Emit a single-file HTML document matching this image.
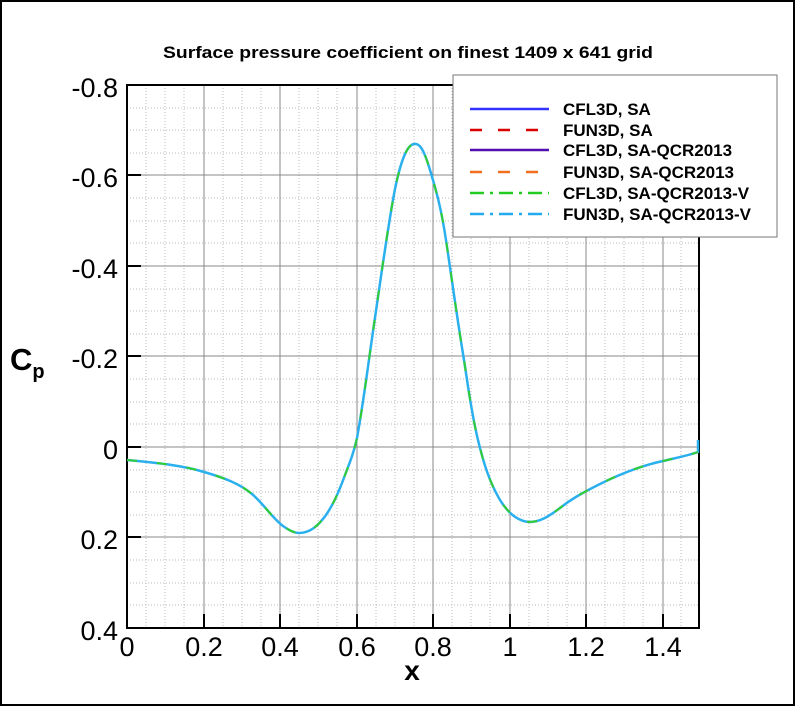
<!DOCTYPE html><html><head><style>body{margin:0;background:#fff}svg{display:block}</style></head><body>
<svg width="795" height="707" xmlns="http://www.w3.org/2000/svg" font-family="Liberation Sans, sans-serif">
<rect x="1" y="1" width="793" height="704" fill="#fff" stroke="#000" stroke-width="2"/>
<text x="408" y="58" font-size="17" font-weight="bold" text-anchor="middle" textLength="490" lengthAdjust="spacingAndGlyphs">Surface pressure coefficient on finest 1409 x 641 grid</text>
<g stroke="#bbb" stroke-width="1" stroke-dasharray="1,2">
<path d="M146,85V628M165,85V628M184,85V628M223,85V628M242,85V628M261,85V628M299,85V628M318,85V628M337,85V628M376,85V628M395,85V628M414,85V628M452,85V628M471,85V628M490,85V628M529,85V628M548,85V628M567,85V628M605,85V628M624,85V628M643,85V628M681,85V628"/>
<path d="M127,108H699M127,130H699M127,153H699M127,198H699M127,221H699M127,243H699M127,289H699M127,311H699M127,334H699M127,379H699M127,402H699M127,424H699M127,470H699M127,492H699M127,515H699M127,560H699M127,583H699M127,605H699"/>
</g>
<g stroke="#888" stroke-width="1">
<path d="M204,85V628M280,85V628M357,85V628M433,85V628M510,85V628M586,85V628M663,85V628"/>
<path d="M127,175H699M127,266H699M127,356H699M127,447H699M127,537H699"/>
</g>
<rect x="127" y="85" width="572" height="543" fill="none" stroke="#000" stroke-width="2"/>
<g stroke="#000" stroke-width="2">
<path d="M127,85h14M127,175h14M127,266h14M127,356h14M127,447h14M127,537h14M204,628v-14M280,628v-14M357,628v-14M433,628v-14M510,628v-14M586,628v-14M663,628v-14"/>
</g>
<g font-size="27" text-anchor="end">
<text x="118" y="97">-0.8</text><text x="118" y="187">-0.6</text><text x="118" y="278">-0.4</text><text x="118" y="368">-0.2</text><text x="118" y="459">0</text><text x="118" y="549">0.2</text><text x="118" y="640">0.4</text>
</g>
<g font-size="27" text-anchor="middle">
<text x="127" y="656">0</text><text x="204" y="656">0.2</text><text x="280" y="656">0.4</text><text x="357" y="656">0.6</text><text x="433" y="656">0.8</text><text x="510" y="656">1</text><text x="586" y="656">1.2</text><text x="663" y="656">1.4</text>
</g>
<text x="412" y="680" font-size="28" font-weight="bold" text-anchor="middle">x</text>
<text x="10" y="370" font-size="31" font-weight="bold">C<tspan font-size="20" dy="8">p</tspan></text>
<path d="M127,460 C160,463 185,466 204,472 C225,478 240,484 252,494 C264,504 272,518 283,526 C290,531 295,533 299,533 C310,533 318,526 326,515 C332,506 337,497 345,475 C350,462 354,452 357,438 C364,400 370,350 376,311 C383,262 389,220 395,189 C401,160 407,145 414,144 C420,143 424,150 430,170 C436,190 441,207 446,240 C452,280 456,311 464,360 C468,385 471,411 478,440 C484,465 490,483 500,500 C508,513 518,521 529,522 C540,522 548,517 560,508 C570,500 580,494 600,484 C620,474 640,466 663,461 C680,457 690,455 698,452 L698,440" fill="none" stroke="#2ab0ee" stroke-width="2.5"/>
<path d="M127,460 C160,463 185,466 204,472 C225,478 240,484 252,494 C264,504 272,518 283,526 C290,531 295,533 299,533 C310,533 318,526 326,515 C332,506 337,497 345,475 C350,462 354,452 357,438 C364,400 370,350 376,311 C383,262 389,220 395,189 C401,160 407,145 414,144 C420,143 424,150 430,170 C436,190 441,207 446,240 C452,280 456,311 464,360 C468,385 471,411 478,440 C484,465 490,483 500,500 C508,513 518,521 529,522 C540,522 548,517 560,508 C570,500 580,494 600,484 C620,474 640,466 663,461 C680,457 690,455 698,452" fill="none" stroke="#3c3" stroke-width="2" stroke-dasharray="10,20"/>
<rect x="453" y="75" width="324" height="162" fill="#fff" stroke="#777" stroke-width="1"/>
<g stroke-width="2.5">
<path d="M470,109H549" stroke="#33f"/>
<path d="M470,130H549" stroke="#d00" stroke-dasharray="12,16"/>
<path d="M470,150H549" stroke="#5010b0"/>
<path d="M470,172H549" stroke="#f07020" stroke-dasharray="12,16"/>
<path d="M470,193H549" stroke="#2c2" stroke-dasharray="14,6,3,6"/>
<path d="M470,214H549" stroke="#22aaee" stroke-dasharray="14,6,3,6"/>
</g>
<g font-size="17" font-weight="bold">
<text x="563" y="115">CFL3D, SA</text><text x="563" y="136">FUN3D, SA</text><text x="563" y="156">CFL3D, SA-QCR2013</text><text x="563" y="178">FUN3D, SA-QCR2013</text><text x="563" y="199">CFL3D, SA-QCR2013-V</text><text x="563" y="220">FUN3D, SA-QCR2013-V</text>
</g>
</svg></body></html>
